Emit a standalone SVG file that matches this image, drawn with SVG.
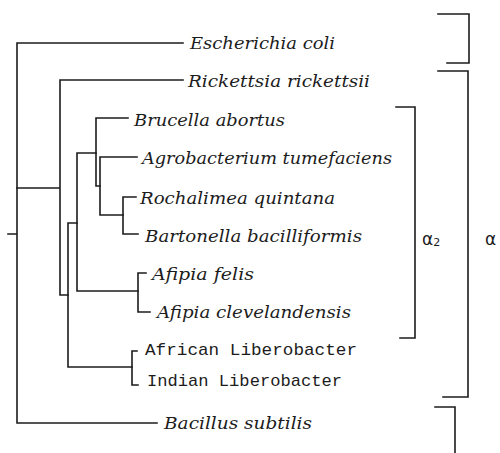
<svg xmlns="http://www.w3.org/2000/svg" width="500" height="453" viewBox="0 0 500 453">
<style>
.ln{fill:none;stroke:#1c1c1c;stroke-width:1.6;stroke-linecap:square}
.it{font-family:"DejaVu Serif","Liberation Serif",serif;font-style:italic;font-size:17px;fill:#1c1c1c}
.mo{font-family:"Liberation Mono","DejaVu Sans Mono",monospace;font-size:17px;fill:#1c1c1c}
.gr{font-family:"DejaVu Sans","Liberation Sans",sans-serif;font-size:17px;fill:#1c1c1c}
</style>
<rect width="500" height="453" fill="#fff"/>
<g id="connectors" class="ln">
<path d="M17,43 V423 M8,234 H17 M17,43 H183 M17,423 H157"/>
<path d="M17,188 H60 M60,80 V295 M60,80 H183 M60,295 H68"/>
<path d="M68,223 V367 M68,223 H77 M68,367 H132"/>
<path d="M132,351 V385 M132,351 H137 M132,385 H138"/>
<path d="M77,153 V291 M77,153 H96 M77,291 H138"/>
<path d="M138,273 V312 M138,273 H146 M138,312 H150"/>
<path d="M96,118 V186 H100 M96,118 H128"/>
<path d="M100,157 V215 M100,157 H137 M100,215 H123"/>
<path d="M123,197 V234 M123,197 H136 M123,234 H138"/>
</g>
<g id="brackets" class="ln">
<path d="M438,14 H469 V63 H447"/>
<path d="M438,71 H468 V397 H443"/>
<path d="M396,107 H415 V338 H400"/>
<path d="M435,407 H455 V453"/>
</g>
<g id="ecoli"><text class="it" x="190" y="49" textLength="145" lengthAdjust="spacingAndGlyphs">Escherichia coli</text></g>
<g id="rickettsia"><text class="it" x="188" y="87" textLength="182" lengthAdjust="spacingAndGlyphs">Rickettsia rickettsii</text></g>
<g id="brucella"><text class="it" x="134" y="126" textLength="151" lengthAdjust="spacingAndGlyphs">Brucella abortus</text></g>
<g id="agrobacterium"><text class="it" x="142" y="164" textLength="250" lengthAdjust="spacingAndGlyphs">Agrobacterium tumefaciens</text></g>
<g id="rochalimea"><text class="it" x="140" y="204" textLength="195" lengthAdjust="spacingAndGlyphs">Rochalimea quintana</text></g>
<g id="bartonella"><text class="it" x="145" y="242" textLength="217" lengthAdjust="spacingAndGlyphs">Bartonella bacilliformis</text></g>
<g id="afipia-felis"><text class="it" x="152" y="280" textLength="102" lengthAdjust="spacingAndGlyphs">Afipia felis</text></g>
<g id="afipia-clev"><text class="it" x="157" y="318" textLength="194" lengthAdjust="spacingAndGlyphs">Afipia clevelandensis</text></g>
<g id="african"><text class="mo" x="145" y="355" textLength="212" lengthAdjust="spacingAndGlyphs">African Liberobacter</text></g>
<g id="indian"><text class="mo" x="147" y="386" textLength="195" lengthAdjust="spacingAndGlyphs">Indian Liberobacter</text></g>
<g id="bacillus"><text class="it" x="164" y="429" textLength="148" lengthAdjust="spacingAndGlyphs">Bacillus subtilis</text></g>
<g id="alpha2"><text class="gr" x="422" y="245">α<tspan font-size="11" dy="1">2</tspan></text></g>
<g id="alpha"><text class="gr" x="485" y="245">α</text></g>
</svg>
